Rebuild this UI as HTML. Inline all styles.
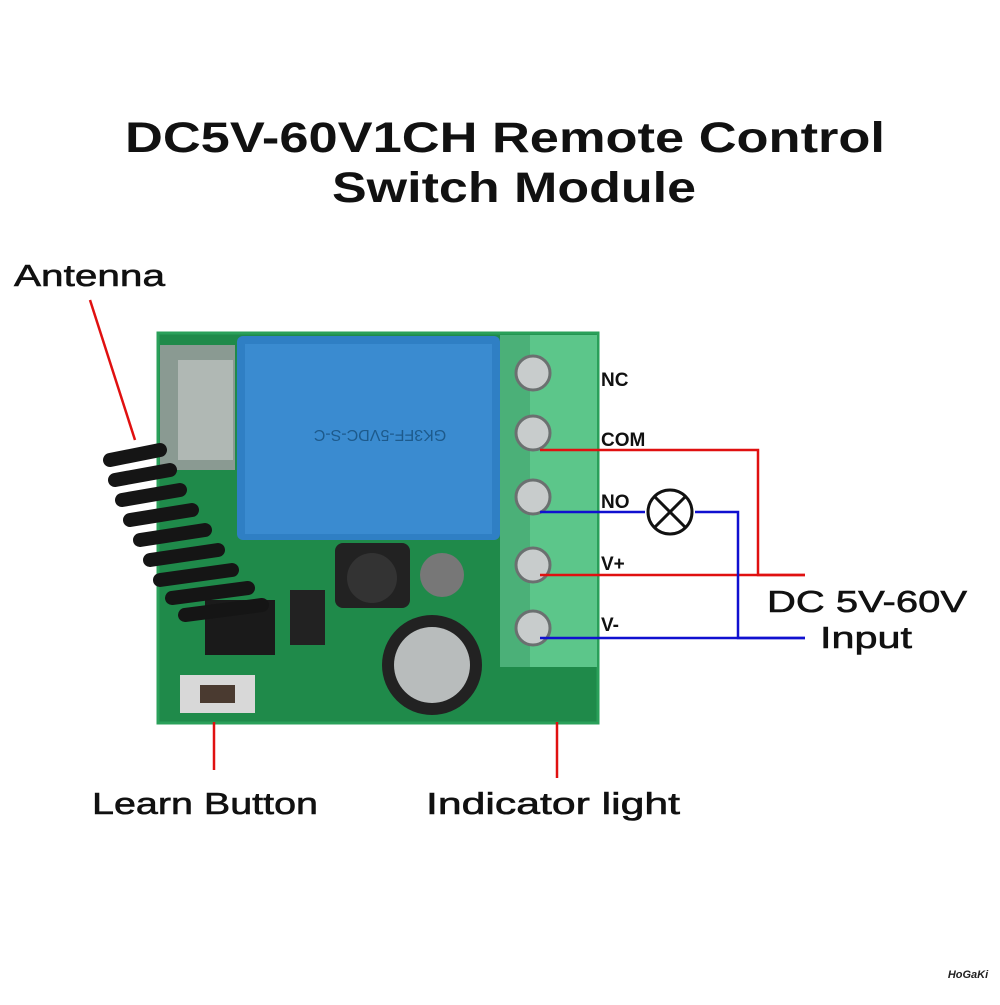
<!DOCTYPE html>
<html><head><style>
body{margin:0;background:#fff;width:1000px;height:1000px;overflow:hidden;font-family:"Liberation Sans",sans-serif}
</style></head><body>
<svg width="1000" height="1000" viewBox="0 0 1000 1000" xmlns="http://www.w3.org/2000/svg">
<rect width="1000" height="1000" fill="#fff"/>
<text x="125" y="152" font-size="43" font-weight="bold" fill="#111" textLength="760" lengthAdjust="spacingAndGlyphs">DC5V-60V1CH Remote Control</text>
<text x="332" y="202" font-size="43" font-weight="bold" fill="#111" textLength="364" lengthAdjust="spacingAndGlyphs">Switch Module</text>
<!-- board -->
<rect x="158" y="333" width="440" height="390" fill="#1f8a4a"/>
<rect x="158" y="333" width="440" height="390" fill="none" stroke="#2aa05a" stroke-width="3"/>
<rect x="160" y="345" width="75" height="125" fill="#8a9a92"/>
<rect x="178" y="360" width="55" height="100" fill="#b0b8b4"/>
<rect x="237" y="336" width="263" height="204" rx="6" fill="#2f7fc4"/>
<rect x="245" y="344" width="247" height="190" fill="#3a8bd0"/>
<text x="380" y="440" font-size="16" fill="#1d5a8c" text-anchor="middle" transform="rotate(180 380 435)">GK3FF-5VDC-S-C</text>
<rect x="500" y="335" width="97" height="332" fill="#5cc68a"/>
<rect x="500" y="335" width="30" height="332" fill="#4bb078"/>
<g fill="#c8cccc" stroke="#6b7070" stroke-width="3">
<circle cx="533" cy="373" r="17"/><circle cx="533" cy="433" r="17"/><circle cx="533" cy="497" r="17"/><circle cx="533" cy="565" r="17"/><circle cx="533" cy="628" r="17"/>
</g>
<rect x="335" y="543" width="75" height="65" rx="8" fill="#222"/>
<circle cx="372" cy="578" r="25" fill="#333"/>
<circle cx="442" cy="575" r="22" fill="#777"/>
<circle cx="432" cy="665" r="50" fill="#222"/>
<circle cx="432" cy="665" r="38" fill="#b8bcbc"/>
<rect x="180" y="675" width="75" height="38" fill="#d8d8d8"/>
<rect x="200" y="685" width="35" height="18" fill="#4a3a30"/>
<rect x="290" y="590" width="35" height="55" fill="#222"/>
<rect x="205" y="600" width="70" height="55" fill="#1a1a1a"/>
<g stroke="#151515" stroke-width="14" stroke-linecap="round">
<line x1="110" y1="460" x2="160" y2="450"/><line x1="115" y1="480" x2="170" y2="470"/><line x1="122" y1="500" x2="180" y2="490"/><line x1="130" y1="520" x2="192" y2="510"/><line x1="140" y1="540" x2="205" y2="530"/><line x1="150" y1="560" x2="218" y2="550"/><line x1="160" y1="580" x2="232" y2="570"/><line x1="172" y1="598" x2="248" y2="588"/><line x1="185" y1="615" x2="262" y2="605"/>
</g>
<g font-size="19" font-weight="bold" fill="#111">
<text x="601" y="386">NC</text><text x="601" y="446">COM</text><text x="601" y="508">NO</text><text x="601" y="570">V+</text><text x="601" y="631">V-</text>
</g>
<g fill="none" stroke-width="2.5">
<polyline points="540,450 758,450 758,575 805,575" stroke="#e01010"/>
<polyline points="540,575 805,575" stroke="#e01010"/>
<polyline points="540,512 645,512" stroke="#1010d0"/>
<polyline points="695,512 738,512 738,638 805,638" stroke="#1010d0"/>
<polyline points="540,638 805,638" stroke="#1010d0"/>
<line x1="90" y1="300" x2="135" y2="440" stroke="#e01010"/>
<line x1="214" y1="722" x2="214" y2="770" stroke="#e01010"/>
<line x1="557" y1="722" x2="557" y2="778" stroke="#e01010"/>
</g>
<circle cx="670" cy="512" r="22" fill="#fff" stroke="#111" stroke-width="3"/>
<line x1="655" y1="497" x2="685" y2="527" stroke="#111" stroke-width="3"/>
<line x1="685" y1="497" x2="655" y2="527" stroke="#111" stroke-width="3"/>
<g font-size="31" fill="#111" stroke="#111" stroke-width="0.6" lengthAdjust="spacingAndGlyphs">
<text x="14" y="286" textLength="151" lengthAdjust="spacingAndGlyphs">Antenna</text>
<text x="767" y="612" textLength="200" lengthAdjust="spacingAndGlyphs">DC 5V-60V</text>
<text x="820" y="648" textLength="92" lengthAdjust="spacingAndGlyphs">Input</text>
<text x="92" y="814" textLength="226" lengthAdjust="spacingAndGlyphs">Learn Button</text>
<text x="426" y="814" textLength="254" lengthAdjust="spacingAndGlyphs">Indicator light</text>
</g>
<text x="968" y="978" font-size="11" font-weight="bold" font-style="italic" fill="#222" text-anchor="middle">HoGaKi</text>
</svg>
</body></html>
